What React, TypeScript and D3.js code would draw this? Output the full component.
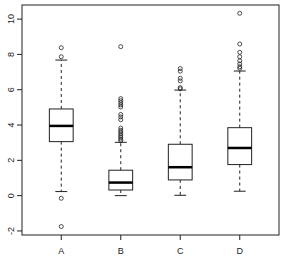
import React from "react";
import * as d3 from "d3";

const categories = ["A", "B", "C", "D"];
const whiskerLow = [0.23, 0.0, 0.02, 0.25];
const q1 = [3.06, 0.32, 0.89, 1.76];
const median = [3.95, 0.74, 1.61, 2.7];
const q3 = [4.91, 1.44, 2.91, 3.85];
const whiskerHigh = [7.68, 3.02, 5.98, 7.06];
const outliersA = [8.38, 7.87, -0.15, -1.75];
const outliersB = [8.44, 5.5, 5.38, 5.26, 5.14, 5.02, 4.6, 4.46, 4.3, 3.83, 3.7, 3.6, 3.5, 3.4, 3.3, 3.2, 3.12];
const outliersC = [7.2, 7.05, 6.65, 6.5, 6.12, 6.05];
const outliersD = [10.33, 8.59, 8.12, 7.87, 7.64, 7.46, 7.3, 7.21];
const outliers = [outliersA, outliersB, outliersC, outliersD];
const yTicks = [-2, 0, 2, 4, 6, 8, 10];

export default function App() {
  const W = 285, H = 259;
  const left = 22, right = 279, top = 5, bottom = 235;
  const x = d3.scaleLinear().domain([0.34, 4.66]).range([left, right]);
  const y = d3.scaleLinear().domain([-2.23, 10.8]).range([bottom, top]);
  const boxW = x(1.4) - x(1);
  const stroke = "#222";
  return (
    <svg width={W} height={H} style={{ position: "absolute", left: 0, top: 0, background: "#fff" }}
      fontFamily="'Liberation Sans', Arial, sans-serif">
      <rect x={0} y={0} width={W} height={H} fill="#fff" />
      {categories.map((c, i) => {
        const cx = x(i + 1);
        return (
          <g key={c}>
            <line x1={cx} x2={cx} y1={y(q3[i])} y2={y(whiskerHigh[i])} stroke={stroke} strokeDasharray="3,3" strokeWidth={1} />
            <line x1={cx} x2={cx} y1={y(q1[i])} y2={y(whiskerLow[i])} stroke={stroke} strokeDasharray="3,3" strokeWidth={1} />
            <line x1={cx - boxW / 4} x2={cx + boxW / 4} y1={y(whiskerHigh[i])} y2={y(whiskerHigh[i])} stroke={stroke} />
            <line x1={cx - boxW / 4} x2={cx + boxW / 4} y1={y(whiskerLow[i])} y2={y(whiskerLow[i])} stroke={stroke} />
            <rect x={cx - boxW / 2} y={y(q3[i])} width={boxW} height={y(q1[i]) - y(q3[i])} fill="#fff" stroke={stroke} />
            <line x1={cx - boxW / 2} x2={cx + boxW / 2} y1={y(median[i])} y2={y(median[i])} stroke="#000" strokeWidth={2.5} />
            {outliers[i].map((v, j) => (
              <circle key={j} cx={cx} cy={y(v)} r={2} fill="none" stroke={stroke} strokeWidth={0.8} />
            ))}
            <line x1={cx} x2={cx} y1={bottom} y2={bottom + 5} stroke={stroke} />
            <text x={cx} y={bottom + 19} textAnchor="middle" fontSize={9} fill="#222">{c}</text>
          </g>
        );
      })}
      {yTicks.map((t) => (
        <g key={t}>
          <line x1={left - 5} x2={left} y1={y(t)} y2={y(t)} stroke={stroke} />
          <text transform={`translate(${left - 8},${y(t)}) rotate(-90)`} textAnchor="middle" fontSize={9} fill="#222">{t}</text>
        </g>
      ))}
      <rect x={left} y={top} width={right - left} height={bottom - top} fill="none" stroke={stroke} />
    </svg>
  );
}
